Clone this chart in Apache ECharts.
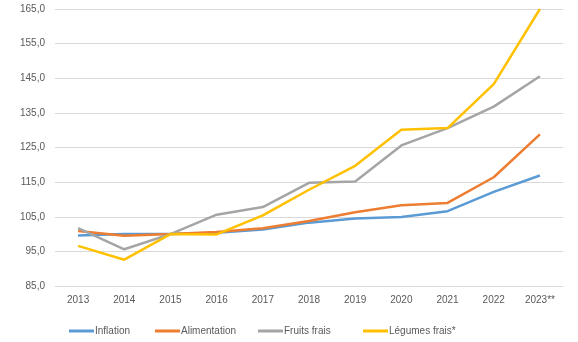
<!DOCTYPE html>
<html><head><meta charset="utf-8">
<script src="https://cdn.jsdelivr.net/npm/echarts@6/dist/echarts.min.js"></script>
<style>html,body{margin:0;padding:0;background:#fff}#c{width:578px;height:342px}</style>
</head><body><div id="c"></div>
<script>
var categories = ['2013','2014','2015','2016','2017','2018','2019','2020','2021','2022','2023**'];
var inflation = [99.6, 100.0, 100.0, 100.4, 101.3, 103.3, 104.5, 104.9, 106.6, 112.2, 116.9];
var alimentation = [100.9, 99.5, 100.0, 100.6, 101.7, 103.8, 106.3, 108.3, 109.0, 116.4, 128.8];
var fruitsFrais = [101.7, 95.6, 100.0, 105.6, 107.8, 114.8, 115.2, 125.6, 130.6, 136.8, 145.6];
var legumesFrais = [96.6, 92.6, 100.0, 99.9, 105.4, 112.8, 119.7, 130.1, 130.6, 143.3, 165.0];
var seriesNames = ['Inflation','Alimentation','Fruits frais','Légumes frais*'];
var colors = ['#5B9BD5','#ED7D31','#A5A5A5','#FFC000'];
var yMin = 85, yMax = 165, yStep = 10;

var chart = echarts.init(document.getElementById('c'));
var dataSets = [inflation, alimentation, fruitsFrais, legumesFrais];
var legendLefts = [64, 150, 253, 358];
var font = '"Liberation Sans", Arial, sans-serif';
chart.setOption({
  animation: false,
  grid: {left: 55, right: 15, top: 9, bottom: 56},
  xAxis: {
    type: 'category', data: categories, boundaryGap: true,
    axisLine: {show: false}, axisTick: {show: false},
    axisLabel: {color: '#595959', fontSize: 10, fontFamily: font, margin: 9, interval: 0}
  },
  yAxis: {
    type: 'value', min: yMin, max: yMax, interval: yStep / 2,
    axisLine: {show: false}, axisTick: {show: false},
    axisLabel: {
      color: '#595959', fontSize: 10, fontFamily: font, margin: 10,
      formatter: function (v) {
        var d = Math.round(v - yMin);
        return d % yStep === 0 ? v.toFixed(1).replace('.', ',') : '';
      }
    },
    splitLine: {lineStyle: {color: ['#D9D9D9', 'rgba(0,0,0,0)'], width: 1}}
  },
  legend: seriesNames.map(function (n, i) {
    return {
      data: [n], left: legendLefts[i], top: 321, icon: 'rect',
      itemWidth: 25, itemHeight: 3, itemGap: 0,
      textStyle: {color: '#595959', fontSize: 10, fontFamily: font, padding: [0, 0, 0, -4]}
    };
  }),
  series: seriesNames.map(function (n, i) {
    return {
      name: n, type: 'line', data: dataSets[i], symbol: 'none',
      lineStyle: {color: colors[i], width: 2.5},
      itemStyle: {color: colors[i]}, z: 2 + i
    };
  })
});
</script></body></html>
